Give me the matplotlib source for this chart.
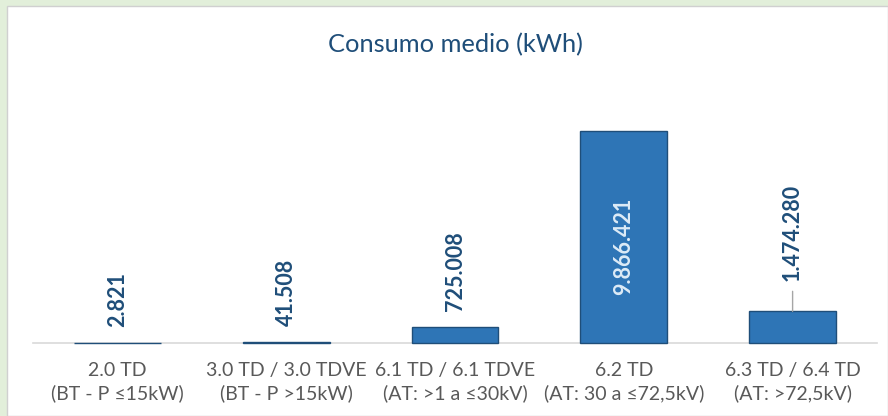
import matplotlib.pyplot as plt
from matplotlib.patches import Rectangle

# data
categorias = ['2.0 TD\n(BT - P ≤15kW)', '3.0 TD / 3.0 TDVE\n(BT - P >15kW)',
              '6.1 TD / 6.1 TDVE\n(AT: >1 a ≤30kV)', '6.2 TD\n(AT: 30 a ≤72,5kV)',
              '6.3 TD / 6.4 TD\n(AT: >72,5kV)']
consumo = [2821, 41508, 725008, 9866421, 1474280]
etiquetas = ['2.821', '41.508', '725.008', '9.866.421', '1.474.280']

W, H = 888, 416
fig = plt.figure(figsize=(W / 100, H / 100), dpi=100)
fig.patch.set_facecolor('#e2efda')
# white chart area with thin grey border
fig.add_artist(Rectangle((7 / W, 0), 1 - 7 / W, 1 - 6 / H, transform=fig.transFigure,
                         facecolor='white', edgecolor='#d0d0d0', linewidth=1, zorder=-5))

ax = fig.add_axes([33 / W, 73 / H, 844 / W, 263 / H])
ax.set_facecolor('none')
x = range(len(consumo))
ax.bar(x, consumo, width=0.515, color='#2e75b6', edgecolor='#1f4e79', linewidth=1,
       zorder=3, clip_on=False)
ax.set_xlim(-0.5, 4.5)
ax.set_ylim(0, 12.24e6)
for s in ['top', 'right', 'left']:
    ax.spines[s].set_visible(False)
ax.spines['bottom'].set_color('#d9d9d9')
ax.spines['bottom'].set_linewidth(1.2)
ax.set_yticks([])
ax.set_xticks(list(x))
ax.set_xticklabels(categorias, fontsize=14, color='#595959', family='Lato', linespacing=1.32)
ax.tick_params(axis='x', length=0, pad=14)

# data labels
for i, (v, t) in enumerate(zip(consumo, etiquetas)):
    if i == 3:
        ax.annotate(t, (i, v / 2), xytext=(0, -9), textcoords='offset pixels',
                    rotation=90, ha='center', va='center', fontsize=15.5,
                    fontweight='bold', family='Lato', color='#ddebf7', zorder=4)
    elif i == 4:
        ax.annotate(t, (i, v), xytext=(0, 30), textcoords='offset pixels',
                    rotation=90, ha='center', va='bottom', fontsize=15.5,
                    fontweight='bold', family='Lato', color='#1f4e79', zorder=4)
        ax.annotate('', (i, v), xytext=(0, 20), textcoords='offset pixels',
                    arrowprops=dict(arrowstyle='-', color='#a6a6a6', lw=1,
                                    shrinkA=0, shrinkB=0))
    else:
        ax.annotate(t, (i, v), xytext=(0, 16), textcoords='offset pixels',
                    rotation=90, ha='center', va='bottom', fontsize=15.5,
                    fontweight='bold', family='Lato', color='#1f4e79', zorder=4)

fig.text(455 / W, 1 - 45 / H, 'Consumo medio (kWh)', ha='center', va='center',
         fontsize=18.3, color='#1f4e79', family='Lato')

fig.savefig('out.png', dpi=100, facecolor=fig.get_facecolor())
